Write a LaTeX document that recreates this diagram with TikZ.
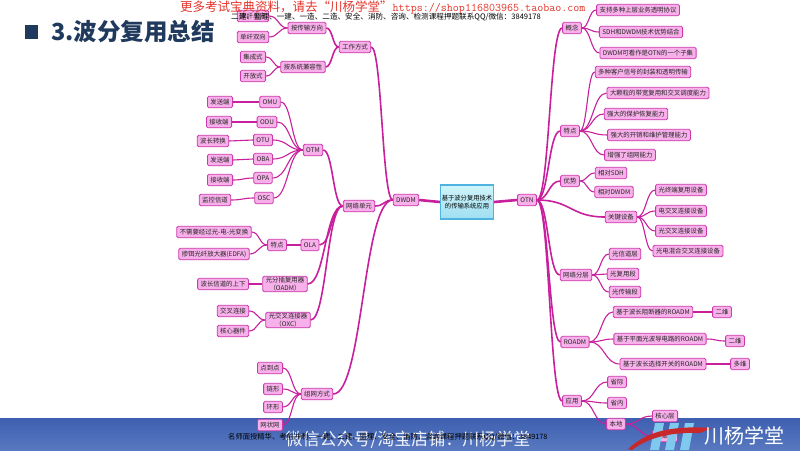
\documentclass[tikz,border=0pt]{standalone}
\usepackage{fontspec}
\setmainfont{Noto Sans CJK SC}
\usetikzlibrary{calc}
\definecolor{nodefill}{HTML}{F7B0EA}
\definecolor{nodedraw}{HTML}{CC38AA}
\definecolor{edgec}{HTML}{C8209C}
\definecolor{titlec}{HTML}{1F3A5C}
\definecolor{cfilla}{HTML}{D0F4FB}
\definecolor{cfillb}{HTML}{9EDFF1}
\definecolor{cdraw}{HTML}{4FB2E0}
\definecolor{bartop}{HTML}{3E60B0}
\definecolor{barbot}{HTML}{5878C0}
\definecolor{redtxt}{HTML}{E5352B}
\definecolor{logoblue}{HTML}{7FC8EE}
\definecolor{logored}{HTML}{C8282A}
\begin{document}
\begin{tikzpicture}[x=1pt,y=-1pt,
 box/.style={draw=nodedraw, fill=nodefill, rounded corners=1.5pt, line width=0.8pt,
   inner xsep=3pt, inner ysep=1pt, minimum height=11.5pt, align=center,
   font=\fontsize{6.4}{7.5}\selectfont, text=black!85},
 edge/.style={draw=edgec, line width=1.1pt},
 medge/.style={draw=edgec, line width=1.6pt},
 hs/.style={to path={let \p1=(\tikztostart), \p2=(\tikztotarget) in
   .. controls ({(\x1+\x2)/2},\y1) and ({(\x1+\x2)/2},\y2) .. (\tikztotarget)}}
]
\useasboundingbox (0,0) rectangle (800,450);
\fill[white] (0,0) rectangle (800,450);

% bottom bar
\shade[top color=bartop, bottom color=barbot] (0,418) rectangle (800,450);

% title
\fill[titlec] (25,25) rectangle (38,39);
\node[anchor=west, text=titlec, font=\fontsize{23.5}{25}\selectfont\bfseries, inner sep=0pt] (title) at (51,32) {3.波分复用总结};

% center
\node[draw=cdraw, line width=1.3pt, top color=cfilla, bottom color=cfillb, minimum width=53pt, minimum height=34pt,
  align=center, font=\fontsize{6.3}{8}\selectfont, inner sep=1pt] (c) at (467,202) {基于波分复用技术\\的传输系统应用};
\node[box] (dwdm) at (406,200) {DWDM};
\node[box] (otn) at (527,200) {OTN};

% ---------------- left side
\node[box] (work) at (355,47) {工作方式};
\node[box] (dir) at (307,28) {按传输方向};
\node[box] (sf) at (253,16) {双纤单向};
\node[box] (sd) at (253,37) {单纤双向};
\node[box] (cmp) at (303,67) {按系统兼容性};
\node[box] (jc) at (253,57) {集成式};
\node[box] (kf) at (253,76) {开放式};

\node[box] (net) at (359,206) {网络单元};
\node[box] (otm) at (313,150) {OTM};
\node[box] (omu) at (270,102) {OMU};
\node[box] (odu) at (267,122) {ODU};
\node[box] (otu) at (263,140) {OTU};
\node[box] (oba) at (263,159) {OBA};
\node[box] (opa) at (263,178) {OPA};
\node[box] (osc) at (264,198) {OSC};
\node[box] (l1) at (220,102) {发送端};
\node[box] (l2) at (219,122) {接收端};
\node[box] (l3) at (213,141) {波长转换};
\node[box] (l4) at (220,160) {发送端};
\node[box] (l5) at (220,180) {接收端};
\node[box] (l6) at (215,200) {监控信道};

\node[box] (ola) at (310,245) {OLA};
\node[box] (olat) at (277,245) {特点};
\node[box] (ola1) at (214,232) {不需要经过光-电-光变换};
\node[box] (ola2) at (214,254) {掺铒光纤放大器(EDFA)};

\node[box] (oadm) at (285,284) {光分插复用器\\（OADM）};
\node[box] (oadm1) at (223,284) {波长信道的上下};
\node[box] (oxc) at (288,320) {光交叉连接器\\（OXC）};
\node[box] (oxc1) at (233,311) {交叉连接};
\node[box] (oxc2) at (233,331) {核心器件};

\node[box] (zw) at (317,394) {组网方式};
\node[box] (zw1) at (270,368) {点到点};
\node[box] (zw2) at (273,389) {链形};
\node[box] (zw3) at (273,407) {环形};
\node[box] (zw4) at (270,425) {网状网};

% ---------------- right side
\node[box] (gn) at (572,28) {概念};
\node[box] (gn1) at (638,10) {支持多种上层业务透明协议};
\node[box] (gn2) at (641,32) {SDH和DWDM技术优势结合};
\node[box] (gn3) at (648,53) {DWDM可看作是OTN的一个子集};

\node[box] (td) at (570,131) {特点};
\node[box] (td1) at (643,72) {多种客户信号的封装和透明传输};
\node[box] (td2) at (658,93) {大颗粒的带宽复用和交叉调度能力};
\node[box] (td3) at (636,114) {强大的保护恢复能力};
\node[box] (td4) at (649,135) {强大的开销和维护管理能力};
\node[box] (td5) at (630,155) {增强了组网能力};

\node[box] (ys) at (570,181) {优势};
\node[box] (ys1) at (611,173) {相对SDH};
\node[box] (ys2) at (614,192) {相对DWDM};

\node[box] (gj) at (621,217) {关键设备};
\node[box] (gj1) at (681,190) {光终端复用设备};
\node[box] (gj2) at (681,211) {电交叉连接设备};
\node[box] (gj3) at (681,231) {光交叉连接设备};
\node[box] (gj4) at (688,251) {光电混合交叉连接设备};

\node[box] (fc) at (576,275) {网络分层};
\node[box] (fc1) at (625,254) {光信道层};
\node[box] (fc2) at (623,274) {光复用段};
\node[box] (fc3) at (625,292) {光传输段};

\node[box] (ro) at (575,342) {ROADM};
\node[box] (ro1) at (653,312) {基于波长阻断器的ROADM};
\node[box] (ro2) at (660,339) {基于平面光波导电路的ROADM};
\node[box] (ro3) at (663,364) {基于波长选择开关的ROADM};
\node[box] (rw1) at (722,312) {二维};
\node[box] (rw2) at (735,341) {二维};
\node[box] (rw3) at (740,364) {多维};

\node[box] (yy) at (572,401) {应用};
\node[box] (yy1) at (617,382) {省际};
\node[box] (yy2) at (617,403) {省内};
\node[box] (yy3) at (616,424) {本地};
\node[box] (bd1) at (665,416) {核心层};
\node[box] (bd2) at (665,436) {汇聚层};

% ---------------- connectors
\draw[edgec, line width=2.6pt] (c.west) -- (dwdm.east);
\draw[edgec, line width=2.6pt] (c.east) -- (otn.west);

\foreach \a/\b in {dwdm/work, dwdm/net, dwdm/zw}
  \draw[medge] (\a.west) to[hs] (\b.east);
\foreach \a/\b in {work/dir, work/cmp, net/otm, net/ola, net/oadm, net/oxc}
  \draw[medge] (\a.west) to[hs] (\b.east);
\foreach \a/\b in {dir/sf, dir/sd, cmp/jc, cmp/kf,
   otm/omu, otm/odu, otm/otu, otm/oba, otm/opa, otm/osc,
   omu/l1, odu/l2, otu/l3, oba/l4, opa/l5, osc/l6,
   ola/olat, olat/ola1, olat/ola2, oadm/oadm1, oxc/oxc1, oxc/oxc2,
   zw/zw1, zw/zw2, zw/zw3, zw/zw4}
  \draw[edge] (\a.west) to[hs] (\b.east);

\foreach \a/\b in {otn/gn, otn/td, otn/ys, otn/gj, otn/fc, otn/ro, otn/yy}
  \draw[medge] (\a.east) to[hs] (\b.west);
\foreach \a/\b in {gn/gn1, gn/gn2, gn/gn3,
   td/td1, td/td2, td/td3, td/td4, td/td5,
   ys/ys1, ys/ys2, gj/gj1, gj/gj2, gj/gj3, gj/gj4,
   fc/fc1, fc/fc2, fc/fc3, ro/ro1, ro/ro2, ro/ro3,
   ro1/rw1, ro2/rw2, ro3/rw3, yy/yy1, yy/yy2, yy/yy3, yy3/bd1, yy3/bd2}
  \draw[edge] (\a.east) to[hs] (\b.west);

% ---------------- overlay texts
\node[anchor=west, inner sep=0pt, text=redtxt, font=\fontsize{12.5}{13}\selectfont] (adred) at (180,7)
  {更多考试宝典资料，请去“川杨学堂”\fontsize{11.7}{12}\selectfont\ttfamily https://shop116803965.taobao.com};
\node[anchor=west, inner sep=0pt, text=black, font=\fontsize{7.6}{9}\selectfont] (adblk) at (231,16.5)
  {二建、监理、一建、一造、二造、安全、消防、咨询、检测课程押题联系QQ/微信：3849178};

% logo
\fill[logoblue] (655,423) -- (664,423) -- (659,450) -- (650,450) -- cycle;
\fill[logoblue] (670,423) -- (679,423) -- (674,450) -- (665,450) -- cycle;
\fill[logoblue] (685,423) -- (694,423) -- (689,450) -- (680,450) -- cycle;
\fill[logored] (628,449) .. controls (650,428) and (680,426) .. (712,428)
   -- (700,433) .. controls (675,432) and (650,436) .. (632,450) -- cycle;

\node[anchor=center, inner sep=0pt, text=white, opacity=0.92, font=\fontsize{17}{19}\selectfont] (wx) at (408,440)
  {微信公众号/淘宝店铺：川杨学堂};
\node[anchor=west, inner sep=0pt, text=black, font=\fontsize{7.3}{9}\selectfont] (ms) at (228,437)
  {名师面授精华、考前冲刺、一建、二建、监理、安全、消防、咨询课程押题联系QQ/微信：3849178};
\node[anchor=west, inner sep=0pt, text=white, font=\fontsize{20}{22}\selectfont] (cy) at (704,436) {川杨学堂};
\end{tikzpicture}
\end{document}
